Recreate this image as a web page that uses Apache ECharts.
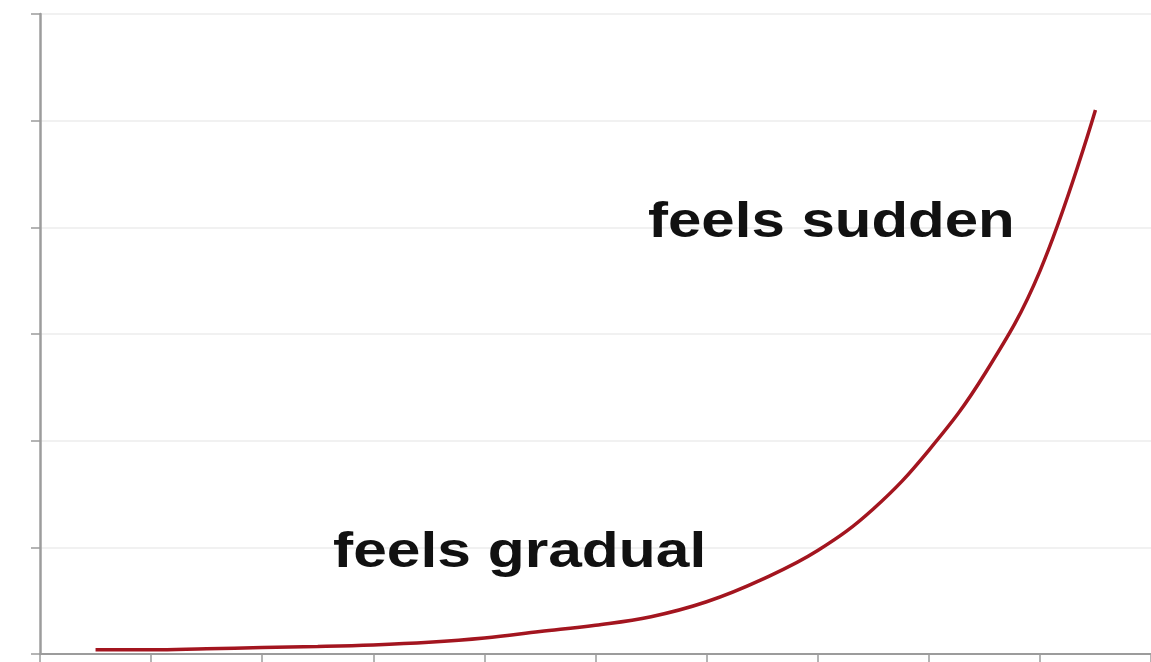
<!DOCTYPE html>
<html>
<head>
<meta charset="utf-8">
<script src="https://cdn.jsdelivr.net/npm/echarts@6/dist/echarts.min.js"></script>
<style>
html,body{margin:0;padding:0;background:#fff;}
#chart{width:1151px;height:662px;}
</style>
</head>
<body>
<div id="chart"></div>
<script>
var xValues = [0.5, 1, 1.5, 2, 2.5, 3, 3.5, 4, 4.5, 5, 5.5, 6, 6.5, 7, 7.5, 8, 8.5, 9, 9.5];
var yValues = [0.04, 0.04, 0.05, 0.06, 0.07, 0.085, 0.11, 0.15, 0.21, 0.27, 0.35, 0.49, 0.7, 0.97, 1.36, 1.91, 2.62, 3.59, 5.1];
var labelGradual = 'feels gradual';
var labelSudden = 'feels sudden';

var seriesData = xValues.map(function (x, i) { return [x, yValues[i]]; });

var chart = echarts.init(document.getElementById('chart'), null, {renderer: 'canvas'});
chart.setOption({
  backgroundColor: '#ffffff',
  animation: false,
  grid: {left: 40, right: 0, top: 14, bottom: 8, containLabel: false},
  xAxis: {
    type: 'value',
    min: 0, max: 10, interval: 1,
    axisLine: {show: true, onZero: false, lineStyle: {color: '#9c9c9c', width: 2}},
    axisTick: {show: true, length: 9, lineStyle: {color: '#9c9c9c', width: 1.5}},
    axisLabel: {show: false},
    splitLine: {show: false}
  },
  yAxis: {
    type: 'value',
    min: 0, max: 6, interval: 1,
    axisLine: {show: true, lineStyle: {color: '#9c9c9c', width: 2.5}},
    axisTick: {show: true, length: 9, lineStyle: {color: '#9c9c9c', width: 1.5}},
    axisLabel: {show: false},
    splitLine: {show: true, lineStyle: {color: '#ececec', width: 1.5}}
  },
  series: [{
    type: 'line',
    data: seriesData,
    smooth: 0.4,
    symbol: 'none',
    lineStyle: {color: '#a3151f', width: 3.5}
  }],
  graphic: [
    {type: 'text', x: 333, y: 553, scaleX: 1.21, z: 100, style: {text: labelGradual, fill: '#111111', font: 'bold 50px "Liberation Sans", Arial, sans-serif', textVerticalAlign: 'middle', textAlign: 'left'}},
    {type: 'text', x: 648, y: 223, scaleX: 1.2, z: 100, style: {text: labelSudden, fill: '#111111', font: 'bold 50px "Liberation Sans", Arial, sans-serif', textVerticalAlign: 'middle', textAlign: 'left'}}
  ]
});
</script>
</body>
</html>
